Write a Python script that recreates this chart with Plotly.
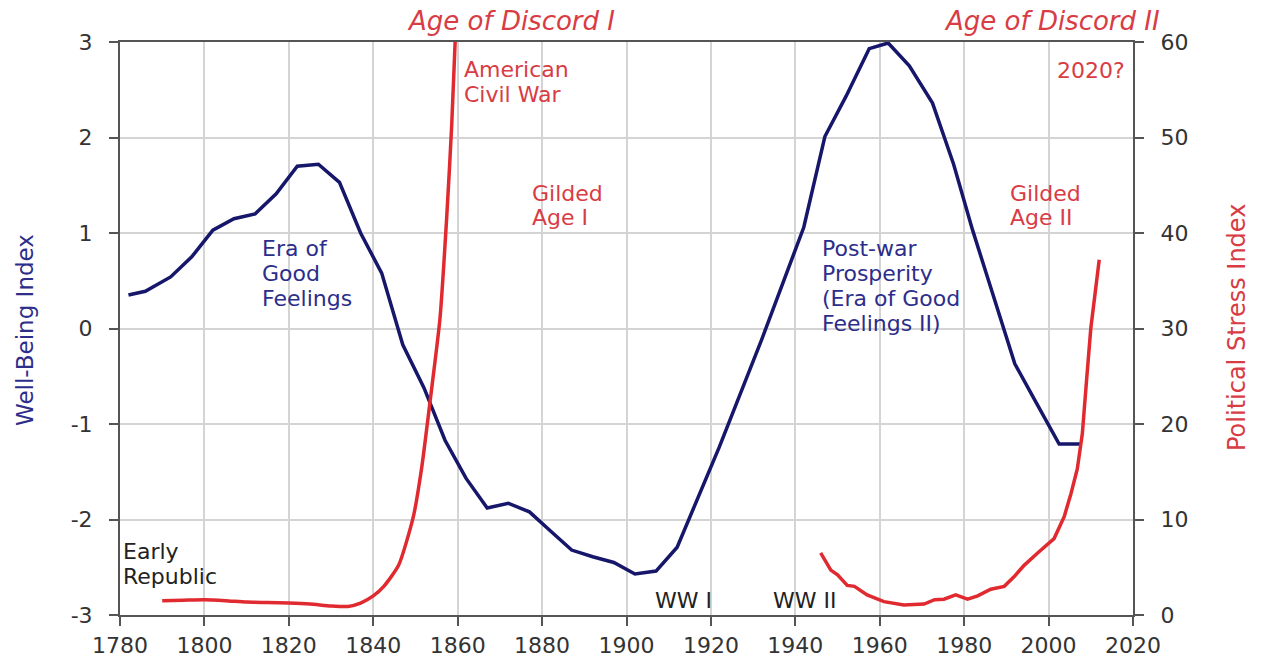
import plotly.graph_objects as go

# ---------------- data ----------------
wellbeing_years = [1782, 1786, 1792, 1797, 1802, 1807, 1812, 1817, 1822, 1827, 1832, 1837,
                   1842, 1847, 1852, 1857, 1862, 1867, 1872, 1877, 1882, 1887, 1892, 1897,
                   1902, 1907, 1912, 1917, 1922, 1927, 1932, 1937, 1942, 1947, 1952, 1957.5,
                   1962, 1967, 1972.5, 1977.5, 1982, 1986.5, 1989.5, 1992, 1997, 2002.5, 2007.5]
wellbeing = [0.35, 0.39, 0.54, 0.75, 1.03, 1.15, 1.20, 1.41, 1.70, 1.72, 1.53, 1.00,
             0.58, -0.17, -0.62, -1.17, -1.57, -1.88, -1.83, -1.92, -2.12, -2.32, -2.39, -2.45,
             -2.57, -2.54, -2.29, -1.77, -1.24, -0.68, -0.12, 0.47, 1.06, 2.01, 2.43, 2.93,
             2.99, 2.75, 2.36, 1.72, 1.03, 0.40, -0.02, -0.37, -0.77, -1.21, -1.21]

stress_years_1 = [1790, 1795, 1800, 1805, 1810, 1815, 1820, 1825, 1830, 1834, 1837, 1840,
                  1842.5, 1846, 1849.5, 1851.5, 1853.5, 1855.8, 1857.4, 1858.6, 1859.4]
stress_1 = [1.5, 1.55, 1.6, 1.5, 1.35, 1.3, 1.25, 1.15, 0.95, 0.9, 1.25, 2.0,
            3.0, 5.2, 10.3, 15.5, 22.5, 31.0, 41.6, 51.4, 60.0]

stress_years_2 = [1946, 1948.4, 1950, 1952.3, 1954, 1957, 1961, 1965.7, 1970.5, 1973, 1975.2,
                  1978, 1980.8, 1983.2, 1986.3, 1989.5, 1991.8, 1994.2, 1997.4, 2001.3,
                  2003.7, 2005.3, 2006.8, 2008, 2009, 2010, 2012]
stress_2 = [6.5, 4.7, 4.2, 3.1, 3.0, 2.1, 1.4, 1.05, 1.15, 1.6, 1.65,
            2.1, 1.65, 2.0, 2.7, 3.0, 4.0, 5.2, 6.5, 8.0,
            10.3, 12.7, 15.3, 19.0, 24.6, 30.0, 37.2]

x_ticks = [1780, 1800, 1820, 1840, 1860, 1880, 1900, 1920, 1940, 1960, 1980, 2000, 2020]
y_ticks = [-3, -2, -1, 0, 1, 2, 3]
y_tick_labels = ["-3", "-2", "-1", "0", "1", "2", "3"]
y2_ticks = [0, 10, 20, 30, 40, 50, 60]

# ---------------- style ----------------
NAVY = "#16166a"
RED = "#e02a30"
RED_TXT = "#d83c44"
NAVY_TXT = "#2d2d8a"
DARK = "#333333"
FONT = "DejaVu Sans"

W, H = 1261, 659
L, R, T, B = 120, 1133, 42, 615


def px(xp, yp):
    return (xp - L) / (R - L), (B - yp) / (B - T)


fig = go.Figure()
fig.add_trace(go.Scatter(x=wellbeing_years, y=wellbeing, mode="lines",
                         line=dict(color=NAVY, width=3.5), name="Well-Being Index",
                         yaxis="y"))
fig.add_trace(go.Scatter(x=stress_years_1, y=stress_1, mode="lines",
                         line=dict(color=RED, width=3.5, shape="spline", smoothing=0.6),
                         name="Political Stress Index", yaxis="y2"))
fig.add_trace(go.Scatter(x=stress_years_2, y=stress_2, mode="lines",
                         line=dict(color=RED, width=3.5),
                         name="Political Stress Index", yaxis="y2", showlegend=False))

annotations = []


def label(lines, xp, y_centers, color, size=22, italic=False):
    for text, yc in zip(lines, y_centers):
        xpp, ypp = px(xp, yc)
        annotations.append(dict(text=text, x=xpp, y=ypp, xref="paper", yref="paper",
                                xanchor="left", yanchor="middle", showarrow=False,
                                font=dict(family=FONT, size=size, color=color,
                                          style="italic" if italic else "normal")))


label(["American", "Civil War"], 462, [69, 94], RED_TXT)
label(["Gilded", "Age I"], 530, [193, 218], RED_TXT)
label(["Gilded", "Age II"], 1008, [193, 218], RED_TXT)
label(["2020?"], 1055, [71], RED_TXT)
label(["Era of", "Good", "Feelings"], 260, [248, 273, 298], NAVY_TXT)
label(["Post-war", "Prosperity", "(Era of Good", "Feelings II)"], 820,
      [248, 273, 298, 323], NAVY_TXT)
label(["Early", "Republic"], 121, [551, 576], "#222222")
label(["WW I"], 653, [600], "#222222")
label(["WW II"], 771, [600], "#222222")
label(["Age of Discord I"], 405, [21], RED_TXT, size=26, italic=True)
label(["Age of Discord II"], 942, [21], RED_TXT, size=26, italic=True)

# axis titles
xa, ya = px(25, 330)
annotations.append(dict(text="Well-Being Index", x=xa, y=ya, xref="paper", yref="paper",
                        xanchor="center", yanchor="middle", textangle=-90, showarrow=False,
                        font=dict(family=FONT, size=23, color=NAVY_TXT)))
xa, ya = px(1237, 328)
annotations.append(dict(text="Political Stress Index", x=xa, y=ya, xref="paper", yref="paper",
                        xanchor="center", yanchor="middle", textangle=-90, showarrow=False,
                        font=dict(family=FONT, size=24, color=RED_TXT)))

axis_common = dict(showline=True, linecolor="#555555", linewidth=2,
                   ticks="outside", ticklen=9, tickwidth=2, tickcolor="#555555",
                   tickfont=dict(family=FONT, size=22, color=DARK), zeroline=False,
                   automargin=False)

fig.update_layout(
    width=W, height=H,
    margin=dict(l=L, r=W - R, t=T, b=H - B, pad=0),
    paper_bgcolor="white", plot_bgcolor="white",
    showlegend=False,
    xaxis=dict(range=[1780, 2020], tickvals=x_ticks, ticktext=[str(v) for v in x_ticks],
               showgrid=True, gridcolor="#d4d4d4", gridwidth=2, mirror=True,
               ticklabelstandoff=1, **axis_common),
    yaxis=dict(range=[-3, 3], tickvals=y_ticks, ticktext=y_tick_labels,
               showgrid=True, gridcolor="#d4d4d4", gridwidth=2,
               ticklabelstandoff=12, **axis_common),
    yaxis2=dict(range=[0, 60], tickvals=y2_ticks, ticktext=[str(v) for v in y2_ticks],
                overlaying="y", side="right", showgrid=False,
                ticklabelstandoff=12, **axis_common),
    annotations=annotations,
)

fig.write_html("out.html", config={"displayModeBar": False},
               post_script="document.body.style.margin='0';document.body.style.overflow='hidden';")
